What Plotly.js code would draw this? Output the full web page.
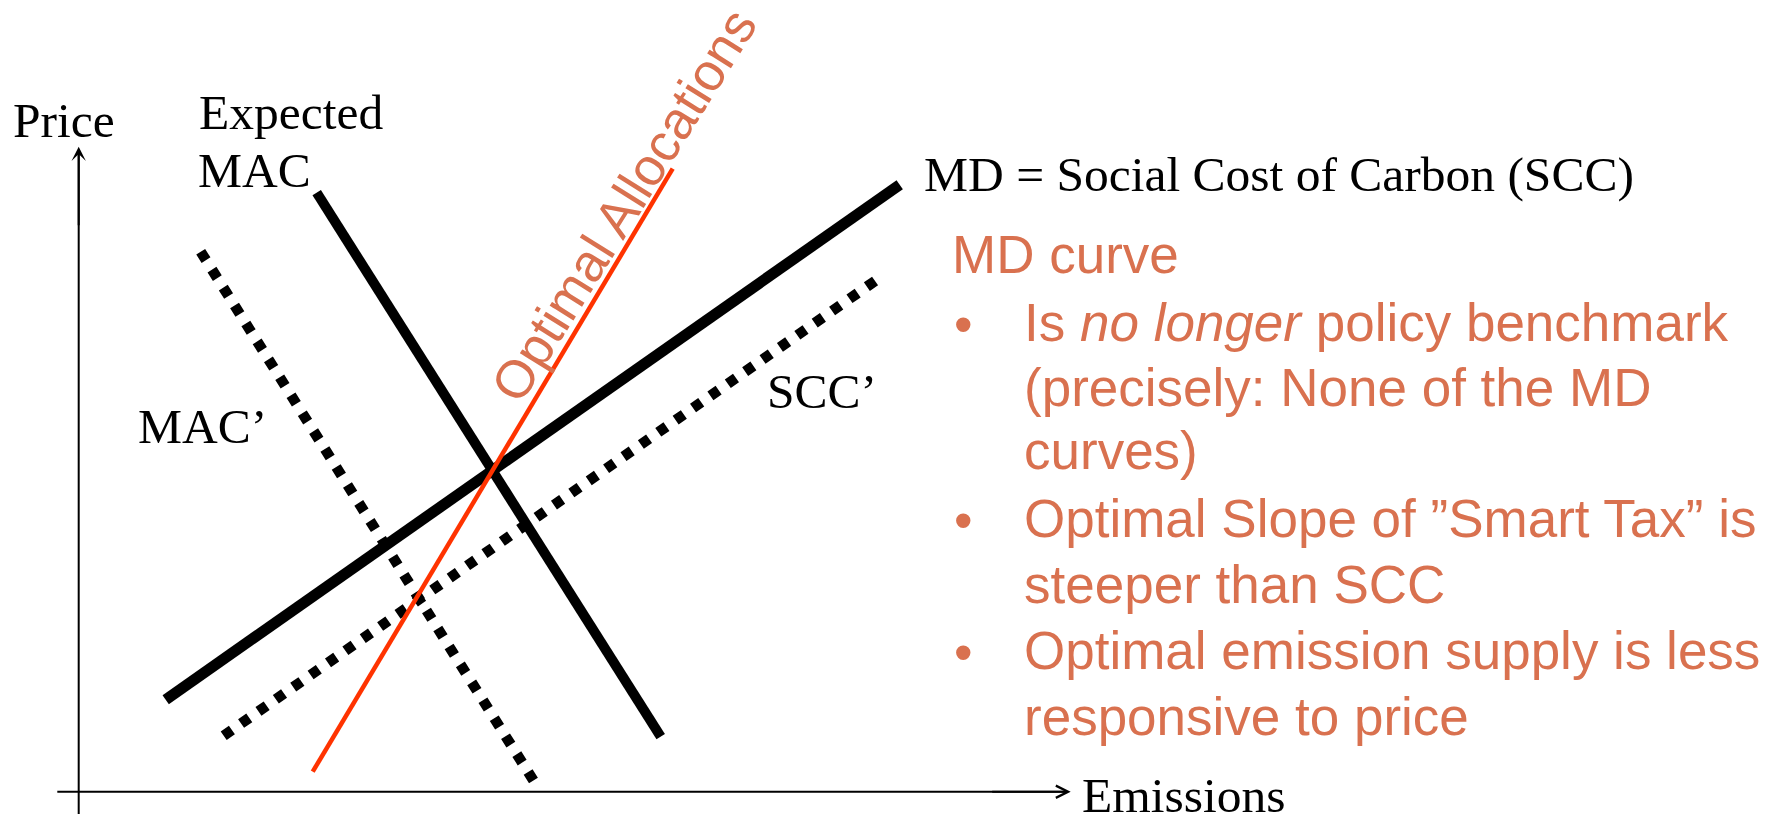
<!DOCTYPE html>
<html>
<head>
<meta charset="utf-8">
<script src="https://cdn.plot.ly/plotly-3.0.1.min.js"></script>
<style>html,body{margin:0;padding:0;background:#fff;overflow:hidden}</style>
</head>
<body>
<div id="chart" style="width:1771px;height:814px"></div>
<script>
// ---- Schematic curves: [start, end] points in (emissions, price) units ----
const macExpectedX = [2.38, 5.82];
const macExpectedY = [5.99, 0.55];
const macPrimeX    = [1.22, 4.58];
const macPrimeY    = [5.40, 0.06];
const mdX          = [0.87, 8.21];
const mdY          = [0.92, 6.07];
const sccPrimeX    = [1.45, 8.01];
const sccPrimeY    = [0.56, 5.14];
const optimalX     = [2.34, 5.94];
const optimalY     = [0.20, 6.23];

// ---- Axis extents ----
const axisXEnd = 9.92;
const axisYEnd = 6.45;

// ---- Texts ----
const axisTitleY = 'Price';
const axisTitleX = 'Emissions';
const labelMACExpected = ['Expected', 'MAC'];
const labelMACPrime = 'MAC\u2019';
const labelSCCPrime = 'SCC\u2019';
const labelMD = 'MD = Social Cost of Carbon (SCC)';
const labelOptimal = 'Optimal Allocations';
const noteHeading = 'MD curve';
const noteLines = [
  'Is <i>no longer</i> policy benchmark',
  '(precisely: None of the MD',
  'curves)',
  'Optimal Slope of \u201DSmart Tax\u201D is',
  'steeper than SCC',
  'Optimal emission supply is less',
  'responsive to price'
];
const noteBulletStarts = [0, 3, 5];

// ---- pixel helpers for label placement ----
const W = 1771, H = 814, OX = 78.7, OY = 791.7, K = 100;
const X = px => (px - OX) / K;
const Y = py => (OY - py) / K;

const ORANGE = '#D9714F';
const SERIF = 'Liberation Serif, Times New Roman, serif';
const SANS = 'Liberation Sans, Arial, sans-serif';
const serifFont = {family: SERIF, size: 49.5, color: '#000'};
const sansFont = {family: SANS, size: 53, color: ORANGE};

function line(x, y, color, width, dash) {
  return {type: 'scatter', mode: 'lines', x: x, y: y, hoverinfo: 'skip',
          line: {color: color, width: width, dash: dash || 'solid'}};
}

const traces = [
  line(mdX, mdY, '#000', 11),
  line(macExpectedX, macExpectedY, '#000', 10),
  line(macPrimeX, macPrimeY, '#000', 10.5, '10px,11.2px'),
  line(sccPrimeX, sccPrimeY, '#000', 10.5, '10px,11.2px'),
  line(optimalX, optimalY, '#FF3300', 4.5)
];

function txt(text, pxX, baseline, font, ratio, extra) {
  return Object.assign({
    xref: 'x', yref: 'y', x: X(pxX), y: Y(baseline - ratio * font.size),
    text: text, showarrow: false, xanchor: 'left', yanchor: 'middle',
    font: font, align: 'left'
  }, extra || {});
}
const SR = 0.3375, AR = 0.3465;

const annotations = [
  txt(axisTitleY, 11, 137, serifFont, SR),
  txt(labelMACExpected[0], 197, 129, serifFont, SR),
  txt(labelMACExpected[1], 196, 187, serifFont, SR),
  txt(labelMD, 922, 191, serifFont, SR),
  txt(labelMACPrime, 136, 443, serifFont, SR),
  txt(labelSCCPrime, 765, 408, serifFont, SR),
  txt(axisTitleX, 1080, 812, serifFont, SR),
  txt(noteHeading, 950, 273, sansFont, AR),
  {xref: 'x', yref: 'y', x: X(623), y: Y(205), text: labelOptimal, showarrow: false,
   xanchor: 'center', yanchor: 'middle', textangle: -58, font: sansFont},
  // axis arrows
  {xref: 'x', yref: 'y', axref: 'x', ayref: 'y', x: 0, y: axisYEnd, ax: 0, ay: axisYEnd - 0.8,
   text: '', showarrow: true, arrowhead: 3, arrowsize: 1.2, arrowwidth: 2, arrowcolor: '#000'},
  {xref: 'x', yref: 'y', axref: 'x', ayref: 'y', x: axisXEnd, y: 0, ax: axisXEnd - 0.8, ay: 0,
   text: '', showarrow: true, arrowhead: 5, arrowsize: 1.2, arrowwidth: 2, arrowcolor: '#000'}
];

const baselines = [341, 406, 469, 537, 603, 669, 735];
noteLines.forEach((t, i) => {
  annotations.push(txt(t, 1022, baselines[i], sansFont, AR));
  if (noteBulletStarts.indexOf(i) >= 0) {
    annotations.push(txt('\u2022', 952, baselines[i] + 2, sansFont, AR));
  }
});

const shapes = [
  {type: 'line', xref: 'x', yref: 'y', x0: 0, x1: 0, y0: Y(H + 5), y1: axisYEnd - 0.05,
   line: {color: '#000', width: 2}},
  {type: 'line', xref: 'x', yref: 'y', x0: X(57.3), x1: axisXEnd - 0.05, y0: 0, y1: 0,
   line: {color: '#000', width: 2}}
];

const layout = {
  width: W, height: H,
  margin: {l: 0, r: 0, t: 0, b: 0, pad: 0},
  paper_bgcolor: '#fff', plot_bgcolor: '#fff',
  showlegend: false,
  xaxis: {range: [X(0), X(W)], visible: false, fixedrange: true},
  yaxis: {range: [Y(H), Y(0)], visible: false, fixedrange: true},
  annotations: annotations,
  shapes: shapes
};

Plotly.newPlot('chart', traces, layout, {displayModeBar: false, staticPlot: true});
</script>
</body>
</html>
